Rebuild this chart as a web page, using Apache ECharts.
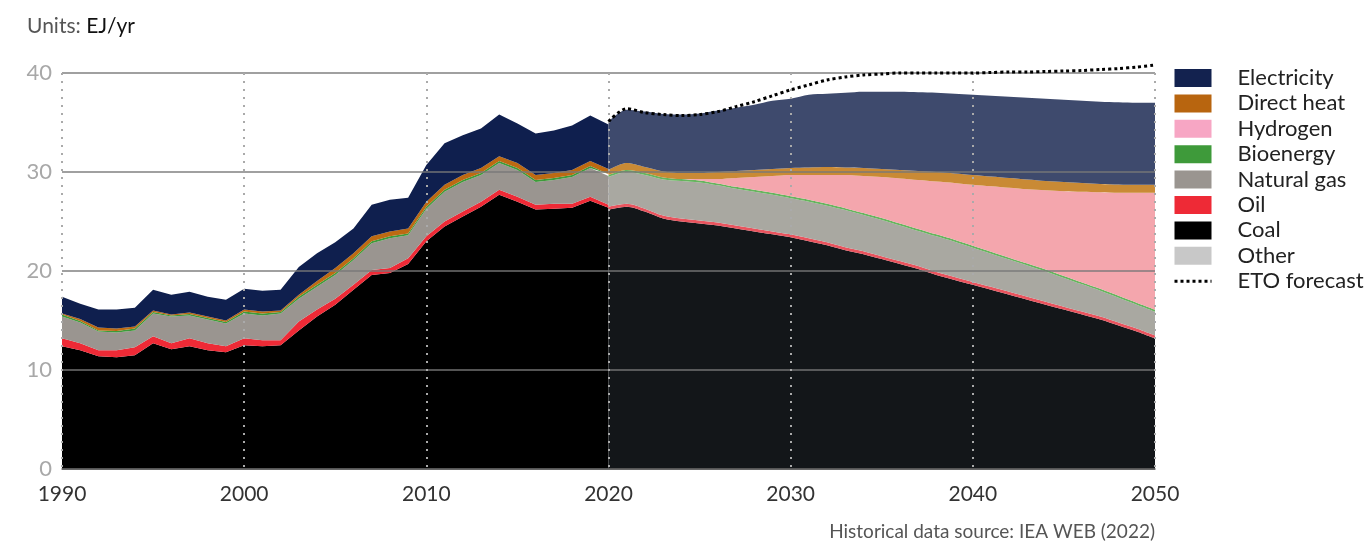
<!DOCTYPE html>
<html>
<head>
<meta charset="utf-8">
<script src="https://cdn.jsdelivr.net/npm/echarts@6/dist/echarts.min.js"></script>
<style>
html, body { margin: 0; padding: 0; background: #fff; }
#chart { width: 1364px; height: 541px; }
</style>
</head>
<body>
<div id="chart"></div>
<script>
var years = ['1990','1991','1992','1993','1994','1995','1996','1997','1998','1999',
	'2000','2001','2002','2003','2004','2005','2006','2007','2008','2009',
	'2010','2011','2012','2013','2014','2015','2016','2017','2018','2019',
	'2020','2021','2022','2023','2024','2025','2026','2027','2028','2029',
	'2030','2031','2032','2033','2034','2035','2036','2037','2038','2039',
	'2040','2041','2042','2043','2044','2045','2046','2047','2048','2049','2050'];

// historical 1990-2020
var otherHist = [0,0,0,0,0,0,0,0,0,0,0,0,0,0,0,0,0,0,0,0,0,0,0,0,0,0,0,0,0,0,0];
var coalHist = [12.4, 12.0, 11.4, 11.3, 11.5, 12.7, 12.1, 12.4, 12.0, 11.8, 12.5, 12.4, 12.5, 14.0, 15.4, 16.6, 18.1, 19.6, 19.8, 20.7, 23.0, 24.5, 25.5, 26.5, 27.7, 27.0, 26.2, 26.3, 26.4, 27.1, 26.4];
var oilHist = [0.8, 0.7, 0.6, 0.7, 0.8, 0.7, 0.6, 0.8, 0.7, 0.6, 0.7, 0.6, 0.5, 0.9, 0.7, 0.6, 0.5, 0.5, 0.5, 0.6, 0.5, 0.5, 0.5, 0.5, 0.5, 0.5, 0.5, 0.5, 0.4, 0.4, 0.3];
var gasHist = [2.2, 2.1, 1.9, 1.8, 1.7, 2.3, 2.7, 2.3, 2.4, 2.3, 2.5, 2.5, 2.7, 2.3, 2.3, 2.4, 2.5, 2.7, 3.0, 2.3, 2.8, 3.0, 3.0, 2.7, 2.7, 2.7, 2.3, 2.4, 2.7, 2.9, 2.9];
var bioHist = [0.2, 0.15, 0.1, 0.15, 0.2, 0.15, 0.1, 0.15, 0.15, 0.15, 0.2, 0.2, 0.15, 0.2, 0.2, 0.2, 0.2, 0.2, 0.2, 0.2, 0.2, 0.2, 0.2, 0.2, 0.2, 0.2, 0.2, 0.2, 0.2, 0.2, 0.2];
var h2Hist = [0,0,0,0,0,0,0,0,0,0,0,0,0,0,0,0,0,0,0,0,0,0,0,0,0,0,0,0,0,0,0];
var heatHist = [0.1, 0.2, 0.3, 0.25, 0.2, 0.15, 0.1, 0.15, 0.15, 0.15, 0.2, 0.2, 0.15, 0.2, 0.4, 0.5, 0.5, 0.5, 0.5, 0.5, 0.5, 0.5, 0.5, 0.5, 0.5, 0.5, 0.5, 0.5, 0.5, 0.5, 0.5];
var elecHist = [1.7, 1.55, 1.8, 1.9, 1.9, 2.1, 2.0, 2.1, 2.0, 2.1, 2.1, 2.1, 2.1, 2.8, 2.8, 2.6, 2.5, 3.2, 3.2, 3.1, 3.7, 4.2, 4.0, 4.0, 4.2, 4.0, 4.2, 4.3, 4.5, 4.6, 4.5];

// forecast 2020-2050
var otherFc = [0,0,0,0,0,0,0,0,0,0,0,0,0,0,0,0,0,0,0,0,0,0,0,0,0,0,0,0,0,0,0];
var coalFc = [26.2, 26.5, 26.0, 25.3, 25.0, 24.8, 24.6, 24.3, 24.0, 23.7, 23.4, 23.0, 22.6, 22.1, 21.7, 21.2, 20.7, 20.2, 19.6, 19.1, 18.6, 18.1, 17.6, 17.1, 16.6, 16.1, 15.6, 15.1, 14.5, 13.9, 13.2];
var oilFc = [0.3, 0.3, 0.3, 0.3, 0.3, 0.3, 0.3, 0.3, 0.3, 0.3, 0.3, 0.3, 0.3, 0.3, 0.3, 0.3, 0.3, 0.3, 0.3, 0.3, 0.3, 0.3, 0.3, 0.3, 0.3, 0.3, 0.3, 0.3, 0.3, 0.3, 0.3];
var gasFc = [3.0, 3.2, 3.4, 3.65, 3.8, 3.85, 3.75, 3.7, 3.7, 3.7, 3.65, 3.7, 3.7, 3.75, 3.65, 3.65, 3.6, 3.55, 3.6, 3.55, 3.45, 3.35, 3.25, 3.15, 3.05, 2.9, 2.75, 2.6, 2.5, 2.4, 2.4];
var bioFc = [0.2, 0.2, 0.2, 0.2, 0.2, 0.2, 0.2, 0.2, 0.2, 0.2, 0.2, 0.2, 0.2, 0.2, 0.2, 0.2, 0.2, 0.2, 0.2, 0.2, 0.2, 0.2, 0.2, 0.2, 0.2, 0.2, 0.2, 0.2, 0.2, 0.2, 0.2];
var h2Fc = [0, 0, 0, 0, 0, 0.15, 0.45, 0.9, 1.3, 1.7, 2.15, 2.5, 2.9, 3.35, 3.75, 4.15, 4.55, 4.95, 5.35, 5.75, 6.15, 6.6, 7.05, 7.5, 8.0, 8.55, 9.15, 9.75, 10.4, 11.1, 11.8];
var heatFc = [0.5, 0.7, 0.6, 0.6, 0.6, 0.6, 0.7, 0.7, 0.7, 0.7, 0.7, 0.75, 0.8, 0.75, 0.8, 0.8, 0.85, 0.9, 0.95, 0.95, 1.0, 1.0, 1.0, 1.0, 0.95, 0.95, 0.9, 0.85, 0.85, 0.8, 0.8];
var elecFc = [4.9, 5.4, 5.6, 5.8, 5.9, 6.0, 6.2, 6.4, 6.6, 6.9, 7.0, 7.35, 7.4, 7.55, 7.7, 7.8, 7.9, 7.95, 8.0, 8.05, 8.1, 8.15, 8.2, 8.25, 8.3, 8.3, 8.3, 8.3, 8.3, 8.3, 8.3];
var etoForecast = [35.1, 36.4, 36.0, 35.8, 35.7, 35.8, 36.1, 36.6, 37.1, 37.7, 38.3, 38.8, 39.3, 39.6, 39.8, 39.9, 40.0, 40.0, 40.0, 40.0, 40.0, 40.05, 40.1, 40.1, 40.15, 40.2, 40.25, 40.35, 40.45, 40.6, 40.8];

var font = 'Lato, "Open Sans", sans-serif';

var layers = [
	{name: 'Other', hist: otherHist, fc: otherFc, colorHist: '#c8c8c8', colorFc: '#cfcfcf', legend: '#c8c8c8'},
	{name: 'Coal', hist: coalHist, fc: coalFc, colorHist: '#000000', colorFc: '#131619', legend: '#000000'},
	{name: 'Oil', hist: oilHist, fc: oilFc, colorHist: '#ee2a36', colorFc: '#e9545e', legend: '#ee2a36'},
	{name: 'Natural gas', hist: gasHist, fc: gasFc, colorHist: '#9a9590', colorFc: '#a9a8a1', legend: '#9a9590'},
	{name: 'Bioenergy', hist: bioHist, fc: bioFc, colorHist: '#3e9a3a', colorFc: '#66b45e', legend: '#3e9a3a'},
	{name: 'Hydrogen', hist: h2Hist, fc: h2Fc, colorHist: '#f7a6c4', colorFc: '#f4a6ad', legend: '#f7a6c4'},
	{name: 'Direct heat', hist: heatHist, fc: heatFc, colorHist: '#bd6a12', colorFc: '#c98a35', legend: '#b8650f'},
	{name: 'Electricity', hist: elecHist, fc: elecFc, colorHist: '#0f1f4e', colorFc: '#3e4a6d', legend: '#13224f'}
];

var pad = function(n) {
	var out = [];
	for (var i = 0; i < n; i++) out.push(null);
	return out;
};

var series = [];
layers.forEach(function(layer) {
	series.push({
		name: layer.name,
		type: 'line',
		stack: 'hist',
		data: layer.hist.concat(pad(30)),
		showSymbol: false,
		lineStyle: {width: 0},
		itemStyle: {color: layer.colorHist},
		areaStyle: {color: layer.colorHist, opacity: 1},
		z: 2
	});
});
layers.forEach(function(layer) {
	series.push({
		name: layer.name,
		type: 'line',
		stack: 'fc',
		smooth: 0.3,
		data: pad(30).concat(layer.fc),
		showSymbol: false,
		lineStyle: {width: 0},
		itemStyle: {color: layer.colorFc},
		areaStyle: {color: layer.colorFc, opacity: 1},
		z: 2
	});
});
series.push({
	name: 'ETO forecast',
	type: 'line',
	smooth: 0.3,
	data: pad(30).concat(etoForecast),
	showSymbol: false,
	symbol: 'none',
	clip: false,
	itemStyle: {color: '#000'},
	lineStyle: {color: '#000', width: 3, type: [3, 3]},
	z: 12
});

var legendData = layers.slice().reverse().map(function(layer) {
	return {name: layer.name, icon: 'rect', itemStyle: {color: layer.legend}};
});
legendData.push({name: 'ETO forecast', itemStyle: {opacity: 0}, lineStyle: {color: '#000', width: 3, type: [3, 3]}});

var chart = echarts.init(document.getElementById('chart'));
chart.setOption({
	animation: false,
	title: {
		text: '{a|Units: }{b|EJ/yr}',
		left: 22,
		top: 11,
		textStyle: {
			fontWeight: 'normal',
			rich: {
				a: {fontSize: 21, color: '#555', fontFamily: font, fontWeight: 'normal'},
				b: {fontSize: 21, color: '#111', fontFamily: font, fontWeight: 'normal'}
			}
		}
	},
	legend: {
		orient: 'vertical',
		left: 1168,
		top: 62,
		itemWidth: 37,
		itemHeight: 18,
		itemGap: 3.4,
		selectedMode: false,
		textStyle: {fontSize: 22, color: '#222', fontFamily: font, lineHeight: 18, padding: [0, 0, 0, 21]},
		data: legendData
	},
	grid: {left: 62, right: 209, top: 73, bottom: 72, containLabel: false},
	xAxis: {
		type: 'category',
		data: years,
		boundaryGap: false,
		z: 10,
		axisLine: {lineStyle: {color: '#555', width: 1.5}},
		axisTick: {show: false},
		axisLabel: {interval: 9, fontSize: 21, color: '#333', margin: 15, fontFamily: font},
		splitLine: {show: true, interval: 9, lineStyle: {type: [2, 6], color: '#aaaaaa', width: 2}}
	},
	yAxis: {
		type: 'value',
		min: 0,
		max: 40,
		interval: 10,
		z: 10,
		axisLine: {show: false},
		axisTick: {show: false},
		axisLabel: {fontSize: 22, color: '#a8a8a8', margin: 10, fontFamily: font},
		splitLine: {lineStyle: {color: 'rgba(120,120,120,0.7)', width: 2}}
	},
	graphic: [{
		type: 'text',
		right: 209,
		top: 522,
		style: {text: 'Historical data source: IEA WEB (2022)', fontSize: 19, fill: '#555', fontFamily: font}
	}],
	series: series
});
</script>
</body>
</html>
